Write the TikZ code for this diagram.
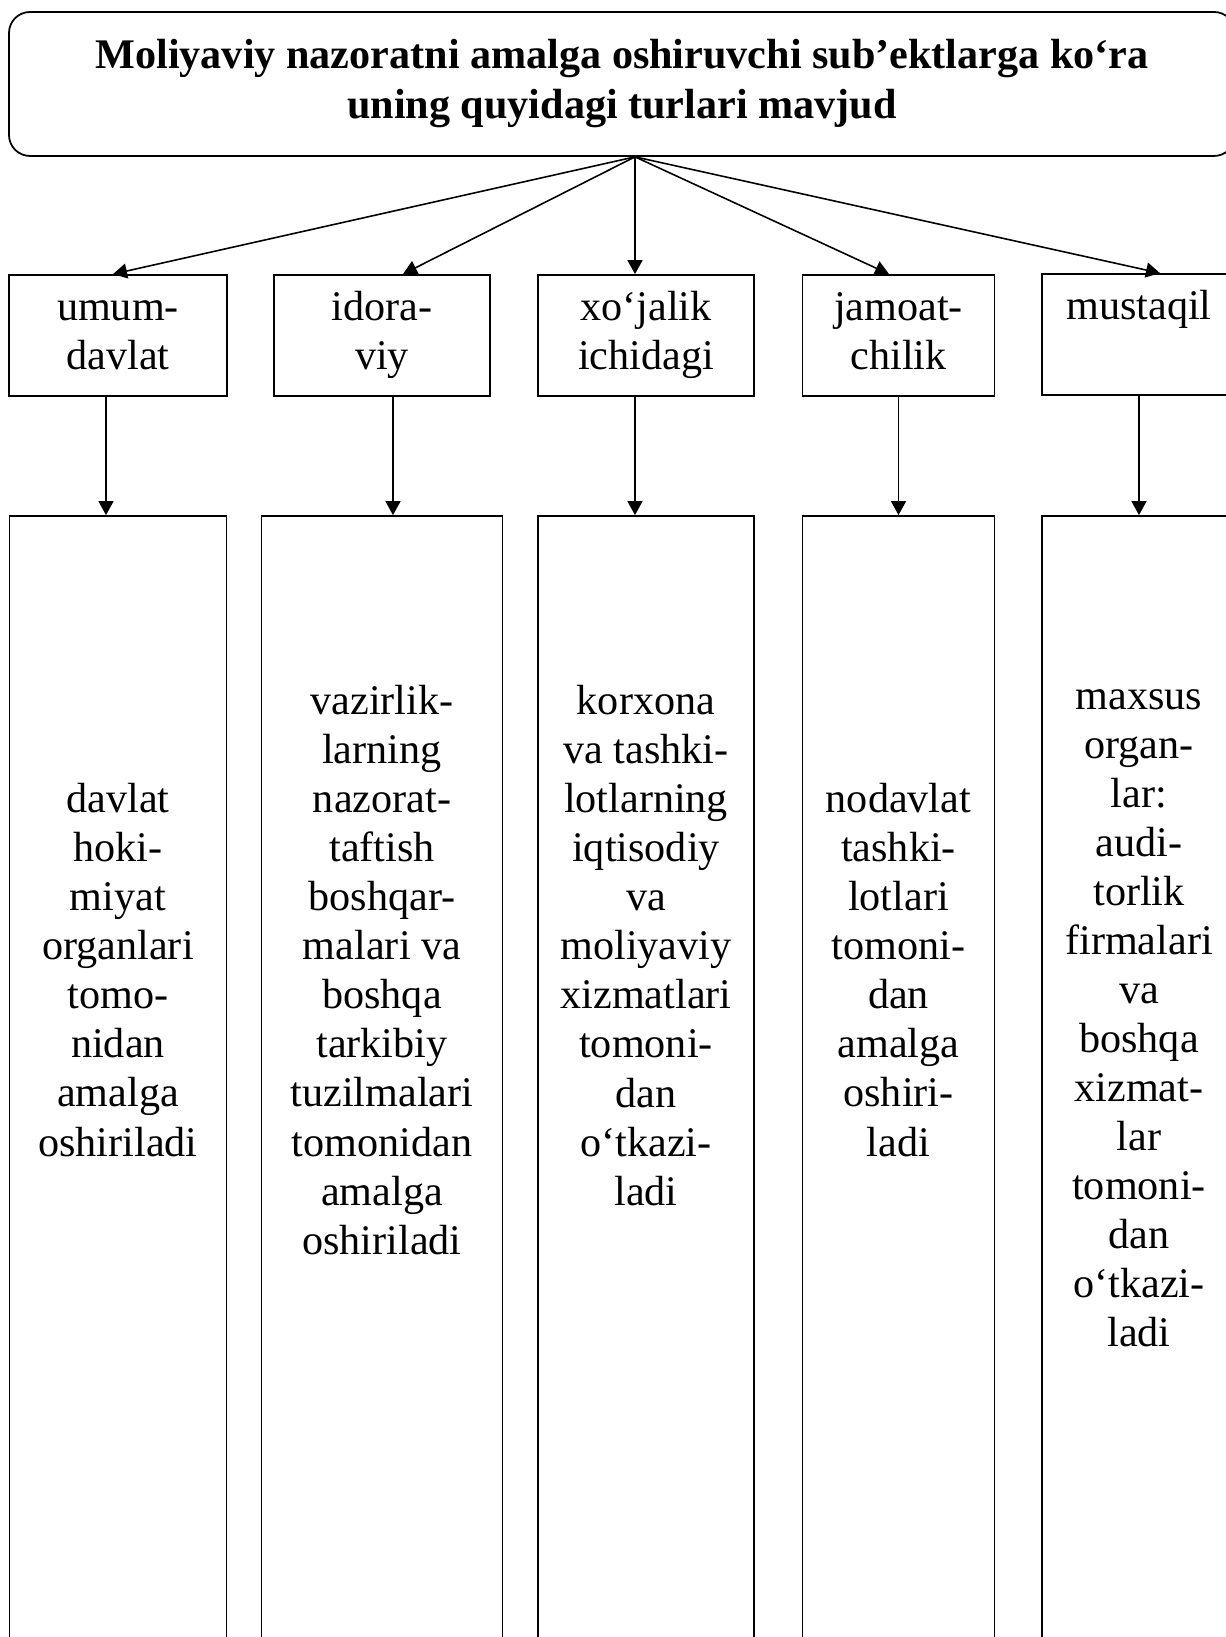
\documentclass[tikz,border=0pt]{standalone}
\usepackage{fontspec}
\setmainfont{Liberation Serif}
\usetikzlibrary{arrows.meta}

\begin{document}
\begin{tikzpicture}[x=1cm, y=1cm,
  topbox/.style={draw, line width=1pt, rounded corners=0.42cm, inner sep=0pt,
    minimum width=24.52cm, minimum height=2.88cm, align=center,
    font=\fontsize{24}{28.5}\selectfont\bfseries},
  kindbox/.style={draw, line width=1pt, inner sep=0pt, minimum height=2.42cm,
    align=center, font=\fontsize{24}{27.9}\selectfont},
  longbox/.style={draw, line width=1pt, inner sep=0pt, minimum height=23.2cm},
  bodytxt/.style={align=center, inner sep=0pt, font=\fontsize{24}{27.9}\selectfont},
  arr/.style={line width=0.9pt, -{Triangle[length=0.28cm, width=0.3cm]}}]
\useasboundingbox (0,0) rectangle (24.52,32.74);

\node[topbox] (title) at (12.44,31.06)
  {Moliyaviy nazoratni amalga oshiruvchi sub’ektlarga ko‘ra\\uning quyidagi turlari mavjud};
\coordinate (fan) at ([xshift=0.26cm]title.south);

% turlari
\node[kindbox, minimum width=4.36cm] (umum) at (2.36,26.03) {\strut umum-\\\strut davlat};
\node[kindbox, minimum width=4.32cm] (idora) at (7.64,26.03) {\strut idora-\\\strut viy};
\node[kindbox, minimum width=4.32cm] (xojalik) at (12.92,26.03) {\strut xo‘jalik\\\strut ichidagi};
\node[kindbox, minimum width=3.84cm] (jamoat) at (17.97,26.03) {\strut jamoat-\\\strut chilik};
\node[kindbox, minimum width=3.88cm] (mustaqil) at (22.78,26.05) {\strut mustaqil\\\strut};

\draw[arr] (fan) -- ([xshift=-0.10cm]umum.north);
\draw[arr] (fan) -- ([xshift=0.42cm]idora.north);
\draw[arr] (fan) -- ([xshift=-0.22cm]xojalik.north);
\draw[arr] (fan) -- ([xshift=-0.19cm]jamoat.north);
\draw[arr] (fan) -- ([xshift=0.42cm]mustaqil.north);

% tavsif ustunlari
\node[longbox, minimum width=4.34cm] (umumdesc) at (2.36,10.82) {};
\node[longbox, minimum width=4.82cm] (idoradesc) at (7.64,10.82) {};
\node[longbox, minimum width=4.32cm] (xojalikdesc) at (12.92,10.82) {};
\node[longbox, minimum width=3.84cm] (jamoatdesc) at (17.97,10.82) {};
\node[longbox, minimum width=3.88cm] (mustaqildesc) at (22.78,10.82) {};

\node[bodytxt] (umumtxt) at (2.36,13.34)
  {davlat\\hoki-\\miyat\\organlari\\tomo-\\nidan\\amalga\\oshiriladi};
\node[bodytxt] (idoratxt) at (7.64,13.34)
  {vazirlik-\\larning\\nazorat-\\taftish\\boshqar-\\malari va\\boshqa\\tarkibiy\\tuzilmalari\\tomonidan\\amalga\\oshiriladi};
\node[bodytxt] (xojaliktxt) at (12.92,13.83)
  {korxona\\va tashki-\\lotlarning\\iqtisodiy\\va\\moliyaviy\\xizmatlari\\tomoni-\\dan\\o‘tkazi-\\ladi};
\node[bodytxt] (jamoattxt) at (17.97,13.34)
  {nodavlat\\tashki-\\lotlari\\tomoni-\\dan\\amalga\\oshiri-\\ladi};
\node[bodytxt] (mustaqiltxt) at (22.78,12.37)
  {maxsus\\organ-\\lar:\\audi-\\torlik\\firmalari\\va\\boshqa\\xizmat-\\lar\\tomoni-\\dan\\o‘tkazi-\\ladi};

\draw[arr] ([xshift=-0.24cm]umum.south) -- ([xshift=-0.24cm]umumdesc.north);
\draw[arr] ([xshift=0.22cm]idora.south) -- ([xshift=0.22cm]idoradesc.north);
\draw[arr] ([xshift=-0.22cm]xojalik.south) -- ([xshift=-0.22cm]xojalikdesc.north);
\draw[arr] (jamoat.south) -- (jamoatdesc.north);
\draw[arr] (mustaqil.south) -- (mustaqildesc.north);
\end{tikzpicture}
\end{document}
